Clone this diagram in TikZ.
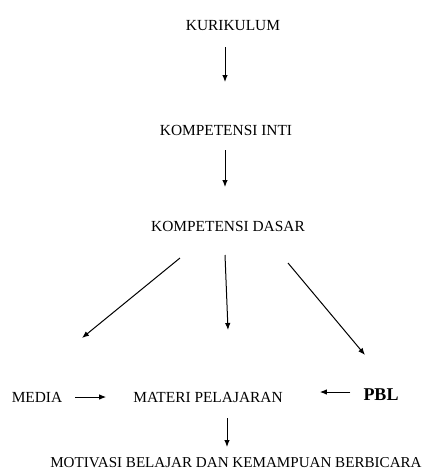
\documentclass[tikz,border=0pt]{standalone}
\usepackage{fontspec}
\setmainfont{Liberation Serif}
\usetikzlibrary{arrows.meta}
\begin{document}
\begin{tikzpicture}[x=1pt,y=-1pt,font=\fontsize{15.4}{18}\selectfont]
\tikzset{flow/.style={-{Latex[length=7pt,width=5.5pt]},line width=1pt}}
\useasboundingbox (0,0) rectangle (425,471);
\node[inner sep=0] (kurikulum) at (233,26) {KURIKULUM};
\node[inner sep=0] (inti) at (226,130) {KOMPETENSI INTI};
\node[inner sep=0] (dasar) at (228,226) {KOMPETENSI DASAR};
\node[inner sep=0] (media) at (37,397) {MEDIA};
\node[inner sep=0] (materi) at (208,397) {MATERI PELAJARAN};
\node[inner sep=0,font=\fontsize{18}{20}\selectfont\bfseries] (pbl) at (381,395) {PBL};
\node[inner sep=0,font=\fontsize{15.1}{18}\selectfont] (motivasi) at (236,463) {MOTIVASI BELAJAR DAN KEMAMPUAN BERBICARA};
\draw[flow] ([shift={(-8,21)}]kurikulum.center) -- ([shift={(-1,-48)}]inti.center);
\draw[flow] ([shift={(-1,20)}]inti.center) -- ([shift={(-3,-39)}]dasar.center);
\draw[flow] ([shift={(-48,32)}]dasar.center) -- ([shift={(45,-59)}]media.center);
\draw[flow] ([shift={(-3,29)}]dasar.center) -- ([shift={(20,-67)}]materi.center);
\draw[flow] ([shift={(60,37)}]dasar.center) -- ([shift={(-16,-40)}]pbl.center);
\draw[flow] ([shift={(13,0)}]media.east) -- ([shift={(-27,0)}]materi.west);
\draw[flow] ([shift={(-13,-3)}]pbl.west) -- ([shift={(37,-5)}]materi.east);
\draw[flow] ([shift={(19,21)}]materi.center) -- ([shift={(-9,-16)}]motivasi.center);
\end{tikzpicture}
\end{document}
